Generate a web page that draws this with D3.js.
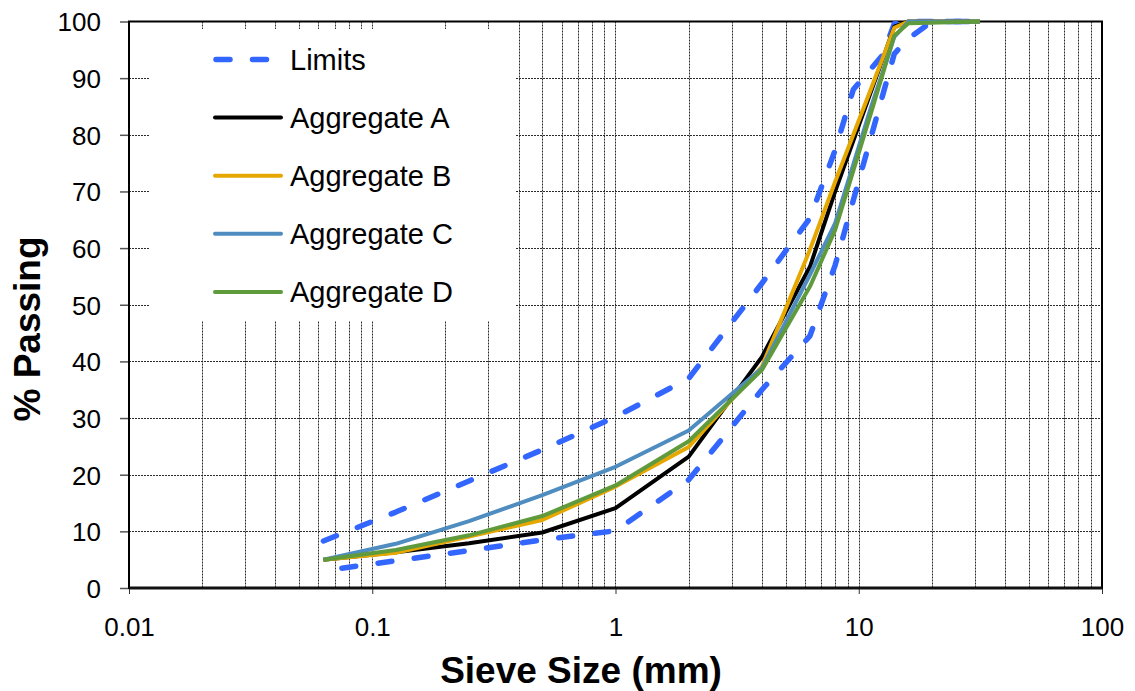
<!DOCTYPE html>
<html>
<head>
<meta charset="utf-8">
<script src="https://cdn.jsdelivr.net/npm/d3@7/dist/d3.min.js"></script>
<style>
  html, body { margin: 0; padding: 0; background: #fff; }
  svg { display: block; font-family: "Liberation Sans", Arial, sans-serif; }
</style>
</head>
<body>
<svg id="chart" width="1135" height="691"></svg>
<script>
// Sieve sizes (mm) for the aggregate gradings
const sieveSizes = [0.063, 0.125, 0.25, 0.5, 1, 2, 4, 6.3, 8, 11.2, 14, 16, 31.5];

// % passing for each aggregate
const aggregateA = [5, 6.3, 7.9, 9.8, 14.1, 23.2, 40.8, 56.7, 70, 87.5, 99.1, 100, 100];
const aggregateB = [5, 6.2, 9.1, 12.0, 17.9, 24.9, 39.1, 59.7, 71.7, 88, 98.9, 100, 100];
const aggregateC = [5, 7.8, 11.8, 16.4, 21.4, 27.8, 38.8, 55.3, 64.4, 84.7, 97.3, 100, 100];
const aggregateD = [5, 6.7, 9.3, 12.7, 18.1, 25.9, 38.5, 53.2, 63.2, 83.7, 97.5, 99.7, 100];

// Grading envelope
const upperSizes = [0.063, 0.125, 0.25, 0.5, 1, 2, 4, 6.3, 8, 9.5, 12.5, 14, 16, 31.5];
const upperLimit = [8.3, 13.4, 18.9, 24.4, 30.2, 37, 53.8, 65.3, 77.3, 88, 94, 99.6, 100, 100];
const lowerSizes = [0.075, 0.125, 0.25, 0.5, 1, 2, 4, 6.3, 8, 14, 16, 20, 31.5];
const lowerLimit = [3.5, 4.8, 6.6, 8.5, 10.1, 19.1, 35, 44.5, 57, 94.3, 97, 100, 100];

// Axis ticks
const xTickValues = [0.01, 0.1, 1, 10, 100];
const xTickLabels = ["0.01", "0.1", "1", "10", "100"];
const yTickValues = [0, 10, 20, 30, 40, 50, 60, 70, 80, 90, 100];

const seriesNames = ["Limits", "Aggregate A", "Aggregate B", "Aggregate C", "Aggregate D"];
const seriesColors = ["#3366ff", "#000000", "#e6a700", "#4f8cbf", "#5f9a3c"];

const svg = d3.select("#chart");
const plotLeft = 129, plotRight = 1102, plotTop = 21.5, plotBottom = 588;

const x = d3.scaleLog().domain([0.01, 100]).range([plotLeft, plotRight]);
const y = d3.scaleLinear().domain([0, 100]).range([plotBottom, plotTop]);

svg.append("rect").attr("width", 1135).attr("height", 691).attr("fill", "#fff");

// Dotted gridlines
const grid = svg.append("g").attr("stroke", "#2a2a2a").attr("stroke-width", 1)
  .attr("stroke-dasharray", "2,1");
const xGrid = x.ticks().filter(v => v > 0.0100001 && v < 99.999);
grid.selectAll("line.vx").data(xGrid).join("line")
  .attr("x1", d => Math.round(x(d)) + 0.5).attr("x2", d => Math.round(x(d)) + 0.5)
  .attr("y1", plotTop).attr("y2", plotBottom);
grid.selectAll("line.hy").data(yTickValues.filter(v => v > 0 && v < 100)).join("line")
  .attr("x1", plotLeft).attr("x2", plotRight)
  .attr("y1", d => Math.round(y(d)) + 0.5).attr("y2", d => Math.round(y(d)) + 0.5);

// Legend backdrop hides the grid behind it
svg.append("rect").attr("x", 150).attr("y", 29).attr("width", 366).attr("height", 292).attr("fill", "#fff");

// Axes
const yAxis = d3.axisLeft(y).tickValues(yTickValues).tickSize(9).tickPadding(19).tickFormat(d3.format("d"));
const yg = svg.append("g").attr("transform", `translate(${plotLeft},0)`).call(yAxis);
yg.select(".domain").remove();
yg.selectAll(".tick line").attr("stroke", "#555").attr("stroke-width", 1.5);
yg.selectAll(".tick text").attr("font-size", 26).attr("fill", "#000")
  .attr("font-family", "'Liberation Sans', Arial, sans-serif").attr("dy", "0.36em");

const xAxis = d3.axisBottom(x).tickValues(xTickValues).tickSize(6).tickPadding(24)
  .tickFormat((d, i) => xTickLabels[i]);
const xg = svg.append("g").attr("transform", `translate(0,${plotBottom})`).call(xAxis);
xg.select(".domain").remove();
xg.selectAll(".tick line").attr("stroke", "#333").attr("stroke-width", 1);
xg.selectAll(".tick text").attr("font-size", 26).attr("fill", "#000")
  .attr("font-family", "'Liberation Sans', Arial, sans-serif");

// Plot frame
svg.append("rect").attr("x", plotLeft).attr("y", plotTop)
  .attr("width", plotRight - plotLeft).attr("height", plotBottom - plotTop)
  .attr("fill", "none").attr("stroke", "#000").attr("stroke-width", 2);
svg.append("line").attr("x1", plotLeft).attr("x2", plotRight).attr("y1", plotBottom).attr("y2", plotBottom)
  .attr("stroke", "#111").attr("stroke-width", 3);

// Curves
const line = d3.line().x(d => x(d[0])).y(d => y(d[1]));
const zip = (xs, ys) => xs.map((v, i) => [v, ys[i]]);

const plot = svg.append("g").attr("fill", "none").attr("stroke-linejoin", "round");
[[upperSizes, upperLimit], [lowerSizes, lowerLimit]].forEach(([xs, ys]) => {
  plot.append("path").attr("d", line(zip(xs, ys)))
    .attr("stroke", seriesColors[0]).attr("stroke-width", 5.5)
    .attr("stroke-dasharray", "14,22.5").attr("stroke-linecap", "round");
});
[aggregateA, aggregateB, aggregateC, aggregateD].forEach((vals, i) => {
  plot.append("path").attr("d", line(zip(sieveSizes, vals)))
    .attr("stroke", seriesColors[i + 1]).attr("stroke-width", 4);
});

// Legend
const legend = svg.append("g");
seriesNames.forEach((name, i) => {
  const ly = 59.5 + i * 58.1;
  const ln = legend.append("line").attr("x1", 215).attr("x2", 281).attr("y1", ly).attr("y2", ly)
    .attr("stroke", seriesColors[i]);
  if (i === 0) {
    ln.attr("stroke-width", 5.5).attr("stroke-dasharray", "14,22.5").attr("stroke-linecap", "round")
      .attr("x1", 216).attr("x2", 268);
  } else {
    ln.attr("stroke-width", 4).attr("stroke-linecap", "round");
  }
  legend.append("text").attr("x", 290).attr("y", ly + 10).attr("font-size", 29).attr("fill", "#000").text(name);
});

// Axis titles
svg.append("text").attr("x", 581).attr("y", 683).attr("text-anchor", "middle")
  .attr("font-size", 37).attr("font-weight", "bold").text("Sieve Size (mm)");
svg.append("text").attr("transform", "translate(40,329) rotate(-90)").attr("text-anchor", "middle")
  .attr("font-size", 37).attr("font-weight", "bold").text("% Passing");
</script>
</body>
</html>
